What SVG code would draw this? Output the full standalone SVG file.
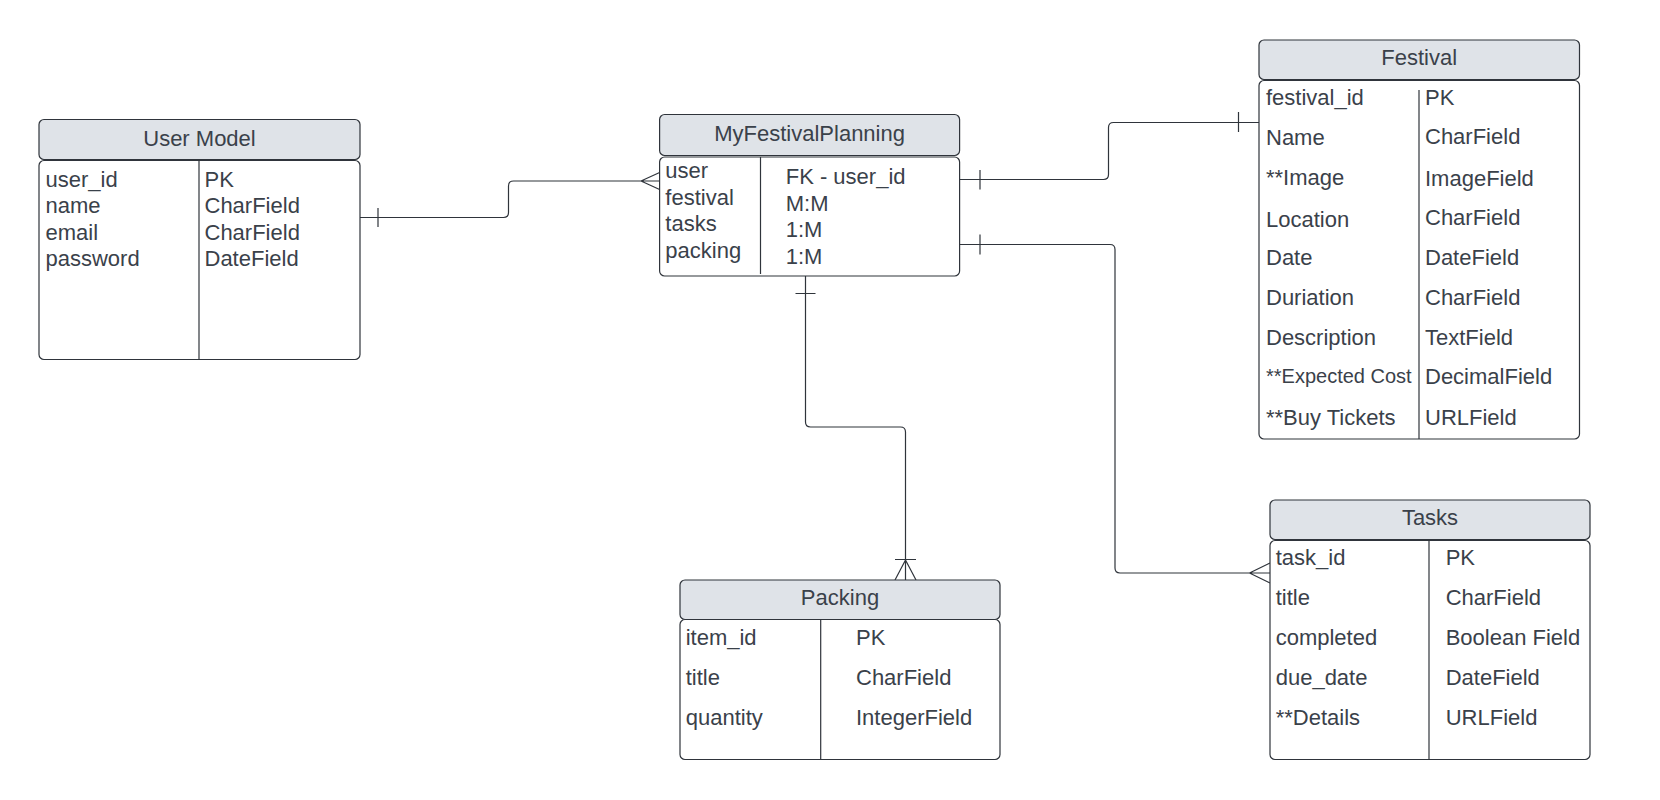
<svg xmlns="http://www.w3.org/2000/svg" width="1660" height="800" viewBox="0 0 1660 800">
<style>
.hd{fill:#dfe3e8;stroke:#2f343b;stroke-width:1.2}
.bd{fill:#ffffff;stroke:#2f343b;stroke-width:1.2}
.dv{stroke:#2f343b;stroke-width:1.2;fill:none}
.t{font-family:"Liberation Sans",Arial,sans-serif;font-size:22px;fill:#3a414a}
.s{font-size:20px}
.h{text-anchor:middle}
.c{fill:none;stroke:#2f343b;stroke-width:1.2}
</style>
<rect width="1660" height="800" fill="#ffffff"/>
<g id="connectors">
<path class="c" d="M360,217.5 H503.5 Q508.5,217.5 508.5,212.5 V186 Q508.5,181 513.5,181 H659.6 M641,181 L659.6,172.5 M641,181 L659.6,189.5 M378,208 V227"/>
<path class="c" d="M959.6,179.5 H1103.5 Q1108.5,179.5 1108.5,174.5 V127.5 Q1108.5,122.5 1113.5,122.5 H1259 M980,170 V189.5 M1238.5,112 V132"/>
<path class="c" d="M959.6,244.5 H1110 Q1115,244.5 1115,249.5 V568 Q1115,573 1120,573 H1270 M980,234.5 V254.5 M1249.5,573 L1270,563 M1249.5,573 L1270,583"/>
<path class="c" d="M805.5,276 V422 Q805.5,427 810.5,427 H900.5 Q905.5,427 905.5,432 V580 M795.5,293.5 H815.5 M895,559.5 H916 M905.5,560 L895,580 M905.5,560 L916,580"/>
</g>
<g id="user-model">
<rect class="hd" x="39" y="119.5" width="321" height="40" rx="5"/>
<rect class="bd" x="39" y="160.5" width="321" height="199" rx="5"/>
<path class="dv" d="M199,160.5 V359.5"/>
<text class="t h" x="199.5" y="145.5">User Model</text>
<text class="t" x="45.5" y="186.5">user_id</text>
<text class="t" x="45.5" y="213">name</text>
<text class="t" x="45.5" y="239.5">email</text>
<text class="t" x="45.5" y="266">password</text>
<text class="t" x="204.5" y="186.5">PK</text>
<text class="t" x="204.5" y="213">CharField</text>
<text class="t" x="204.5" y="239.5">CharField</text>
<text class="t" x="204.5" y="266">DateField</text>
</g>
<g id="my-festival-planning">
<rect class="hd" x="659.6" y="114.5" width="300" height="41" rx="5"/>
<rect class="bd" x="659.6" y="157" width="300" height="119" rx="5"/>
<path class="dv" d="M760.5,157 V274"/>
<text class="t h" x="809.6" y="140.5">MyFestivalPlanning</text>
<text class="t" x="665.3" y="177.5">user</text>
<text class="t" x="665.3" y="204.5">festival</text>
<text class="t" x="665.3" y="231">tasks</text>
<text class="t" x="665.3" y="257.5">packing</text>
<text class="t" x="785.7" y="184">FK - user_id</text>
<text class="t" x="785.7" y="210.5">M:M</text>
<text class="t" x="785.7" y="237">1:M</text>
<text class="t" x="785.7" y="263.5">1:M</text>
</g>
<g id="festival">
<rect class="hd" x="1259" y="40" width="320.5" height="39.5" rx="5"/>
<rect class="bd" x="1259" y="80.5" width="320.5" height="358.5" rx="5"/>
<path class="dv" d="M1419,90 V439"/>
<text class="t h" x="1419.2" y="64.5">Festival</text>
<text class="t" x="1266" y="105">festival_id</text>
<text class="t" x="1266" y="145">Name</text>
<text class="t" x="1266" y="184.5">**Image</text>
<text class="t" x="1266" y="226.5">Location</text>
<text class="t" x="1266" y="265">Date</text>
<text class="t" x="1266" y="305">Duriation</text>
<text class="t" x="1266" y="345">Description</text>
<text class="t s" x="1266" y="383">**Expected Cost</text>
<text class="t" x="1266" y="425">**Buy Tickets</text>
<text class="t" x="1425" y="105">PK</text>
<text class="t" x="1425" y="143.5">CharField</text>
<text class="t" x="1425" y="186">ImageField</text>
<text class="t" x="1425" y="224.5">CharField</text>
<text class="t" x="1425" y="265">DateField</text>
<text class="t" x="1425" y="305">CharField</text>
<text class="t" x="1425" y="345">TextField</text>
<text class="t" x="1425" y="384">DecimalField</text>
<text class="t" x="1425" y="425">URLField</text>
</g>
<g id="packing">
<rect class="hd" x="680" y="580" width="320" height="39.5" rx="5"/>
<rect class="bd" x="680" y="619.5" width="320" height="140" rx="5"/>
<path class="dv" d="M820.7,619.5 V759.5"/>
<text class="t h" x="840" y="604.5">Packing</text>
<text class="t" x="685.7" y="644.5">item_id</text>
<text class="t" x="685.7" y="684.5">title</text>
<text class="t" x="685.7" y="724.5">quantity</text>
<text class="t" x="856" y="644.5">PK</text>
<text class="t" x="856" y="684.5">CharField</text>
<text class="t" x="856" y="724.5">IntegerField</text>
</g>
<g id="tasks">
<rect class="hd" x="1270" y="500" width="320" height="39.5" rx="5"/>
<rect class="bd" x="1270" y="540.5" width="320" height="219" rx="5"/>
<path class="dv" d="M1429,540.5 V759.5"/>
<text class="t h" x="1430" y="524.5">Tasks</text>
<text class="t" x="1275.7" y="565">task_id</text>
<text class="t" x="1275.7" y="605">title</text>
<text class="t" x="1275.7" y="645">completed</text>
<text class="t" x="1275.7" y="685">due_date</text>
<text class="t" x="1275.7" y="725">**Details</text>
<text class="t" x="1445.7" y="565">PK</text>
<text class="t" x="1445.7" y="605">CharField</text>
<text class="t" x="1445.7" y="645">Boolean Field</text>
<text class="t" x="1445.7" y="685">DateField</text>
<text class="t" x="1445.7" y="725">URLField</text>
</g>
</svg>
